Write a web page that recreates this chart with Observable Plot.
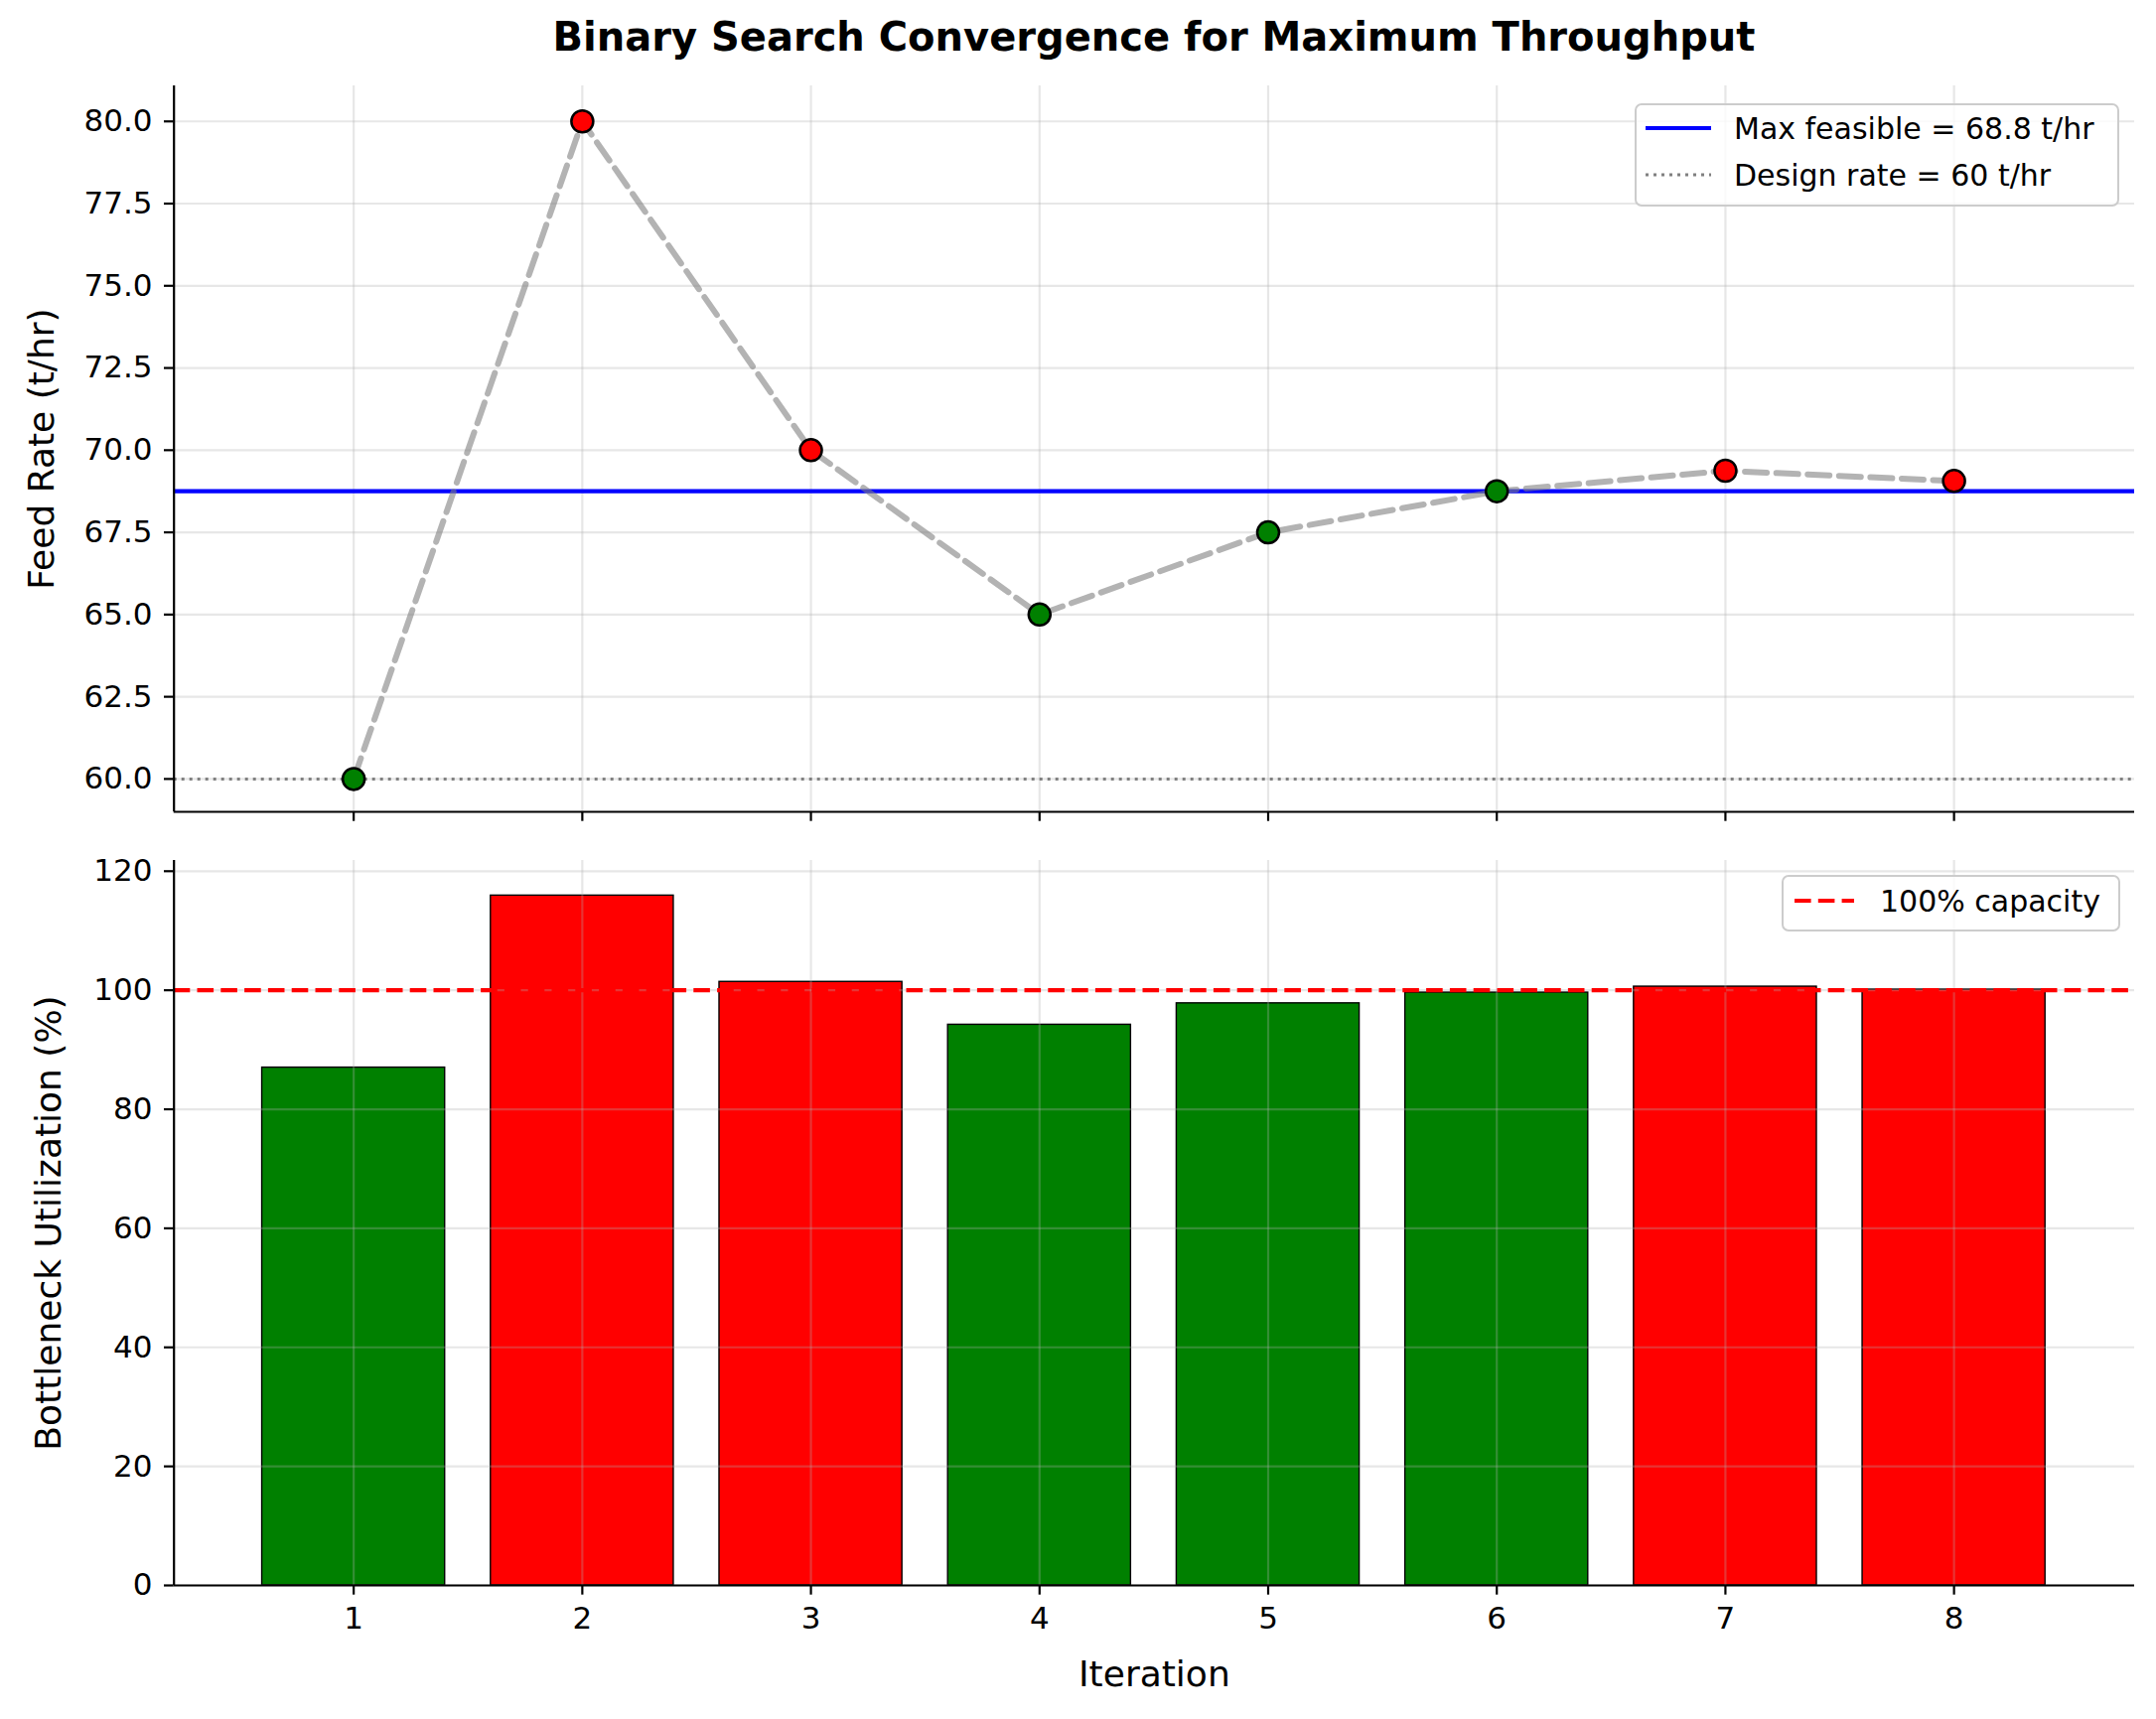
<!DOCTYPE html>
<html>
<head>
<meta charset="utf-8">
<script src="https://cdn.jsdelivr.net/npm/d3@7"></script>
<script src="https://cdn.jsdelivr.net/npm/@observablehq/plot@0.6"></script>
<style>
  html, body { margin: 0; padding: 0; background: #ffffff; }
  #fig { position: relative; width: 2171px; height: 1731px; background: #ffffff; font-family: "DejaVu Sans", sans-serif; }
  #fig > svg { position: absolute; left: 0; }
  #overlay { position: absolute; left: 0; top: 0; pointer-events: none; }
</style>
</head>
<body>
<div id="fig"></div>
<script>
// ---- data ----
const iterations = [1, 2, 3, 4, 5, 6, 7, 8];
const feedRates = [60, 80, 70, 65, 67.5, 68.75, 69.375, 69.0625];
const utilization = [87.0, 115.9, 101.4, 94.2, 97.8, 99.6, 100.6, 100.1];
const feasible = [true, false, false, true, true, true, false, false];
const maxFeasible = 68.75;
const designRate = 60;
const capacityLine = 100;
const feedTicks = [60, 62.5, 65, 67.5, 70, 72.5, 75, 77.5, 80];
const utilTicks = [0, 20, 40, 60, 80, 100, 120];
const titleText = "Binary Search Convergence for Maximum Throughput";
const legendTop = ["Max feasible = 68.8 t/hr", "Design rate = 60 t/hr"];
const legendBottom = ["100% capacity"];

const rows = iterations.map((it, i) => ({
  iter: it,
  feed: feedRates[i],
  util: utilization[i],
  color: feasible[i] ? "green" : "red"
}));

const W = 2171;
const xDomain = [0.214, 8.79];
const gridStyle = {stroke: "#b0b0b0", strokeOpacity: 0.3, strokeWidth: 2.2};
const spine = {stroke: "black", strokeWidth: 2.2};
const baseStyle = {fontFamily: "DejaVu Sans, sans-serif", fontSize: "31px", background: "transparent", overflow: "visible"};

const yTopDomain = [59, 81.08];
const topPlot = Plot.plot({
  width: W, height: 840,
  marginLeft: 174.7, marginRight: 22, marginTop: 86, marginBottom: 23,
  style: baseStyle,
  x: {domain: xDomain},
  y: {domain: yTopDomain},
  color: {type: "identity"},
  marks: [
    Plot.gridX(iterations, gridStyle),
    Plot.gridY(feedTicks, gridStyle),
    Plot.ruleY([maxFeasible], {stroke: "blue", strokeWidth: 4.2}),
    Plot.ruleY([designRate], {stroke: "gray", strokeWidth: 3, strokeDasharray: "3,5"}),
    Plot.line(rows, {x: "iter", y: "feed", stroke: "gray", strokeOpacity: 0.6, strokeWidth: 6, strokeDasharray: "22,9.6"}),
    Plot.dot(rows, {x: "iter", y: "feed", r: 11, fill: "color", stroke: "black", strokeWidth: 2.5}),
    Plot.axisX({ticks: iterations, tickSize: 9.7, tickFormat: () => "", strokeWidth: 2.2, label: null}),
    Plot.axisY({ticks: feedTicks, tickSize: 9.7, tickPadding: 12, tickFormat: d3.format(".1f"), strokeWidth: 2.2, label: null}),
    Plot.ruleX([xDomain[0]], spine),
    Plot.ruleY([yTopDomain[0]], spine),
    Plot.text(["Feed Rate (t/hr)"], {frameAnchor: "left", rotate: -90, dx: 41.5 - 174.7, fontSize: 36, textAnchor: "middle", lineAnchor: "middle", fill: "black"})
  ]
});
topPlot.style.top = "0px";

const yBotDomain = [0, 121.8];
const bottomPlot = Plot.plot({
  width: W, height: 891,
  marginLeft: 174.7, marginRight: 22, marginTop: 26, marginBottom: 135,
  style: baseStyle,
  x: {domain: xDomain},
  y: {domain: yBotDomain},
  color: {type: "identity"},
  marks: [
    Plot.rectY(rows, {x1: d => d.iter - 0.4, x2: d => d.iter + 0.4, y: "util", fill: "color", stroke: "black", strokeWidth: 1.4}),
    Plot.gridX(iterations, gridStyle),
    Plot.gridY(utilTicks, gridStyle),
    Plot.ruleY([capacityLine], {stroke: "red", strokeWidth: 4.2, strokeDasharray: "16.6,7.2"}),
    Plot.axisX({ticks: iterations, tickSize: 9.7, tickPadding: 12, tickFormat: d3.format("d"), strokeWidth: 2.2, label: null}),
    Plot.axisY({ticks: utilTicks, tickSize: 9.7, tickPadding: 12, tickFormat: d3.format("d"), strokeWidth: 2.2, label: null}),
    Plot.ruleX([xDomain[0]], spine),
    Plot.ruleY([yBotDomain[0]], spine),
    Plot.text(["Bottleneck Utilization (%)"], {frameAnchor: "left", rotate: -90, dx: 48.5 - 174.7, fontSize: 36, textAnchor: "middle", lineAnchor: "middle", fill: "black"}),
    Plot.text(["Iteration"], {frameAnchor: "bottom", dy: 90, fontSize: 36, textAnchor: "middle", lineAnchor: "middle", fill: "black"})
  ]
});
bottomPlot.style.top = "840px";

const fig = document.getElementById("fig");
fig.appendChild(topPlot);
fig.appendChild(bottomPlot);

// ---- overlay: title and legends ----
const ns = "http://www.w3.org/2000/svg";
const ov = document.createElementNS(ns, "svg");
ov.setAttribute("id", "overlay");
ov.setAttribute("width", W);
ov.setAttribute("height", 1731);
ov.setAttribute("font-family", "DejaVu Sans, sans-serif");
function el(tag, attrs, text) {
  const e = document.createElementNS(ns, tag);
  for (const k in attrs) e.setAttribute(k, attrs[k]);
  if (text !== undefined) e.textContent = text;
  ov.appendChild(e);
  return e;
}
el("text", {x: 1162, y: 37, "text-anchor": "middle", "dominant-baseline": "central", "font-size": 40, "font-weight": "bold", fill: "black"}, titleText);

// top legend
el("rect", {x: 1647, y: 105, width: 486, height: 102, rx: 6, fill: "white", "fill-opacity": 0.8, stroke: "#cccccc", "stroke-width": 2});
el("line", {x1: 1657, x2: 1723, y1: 129, y2: 129, stroke: "blue", "stroke-width": 4.2});
el("text", {x: 1746, y: 129, "dominant-baseline": "central", "font-size": 30, fill: "black"}, legendTop[0]);
el("line", {x1: 1657, x2: 1723, y1: 176, y2: 176, stroke: "gray", "stroke-width": 3, "stroke-dasharray": "3,5"});
el("text", {x: 1746, y: 176, "dominant-baseline": "central", "font-size": 30, fill: "black"}, legendTop[1]);

// bottom legend
el("rect", {x: 1795, y: 882, width: 339, height: 55, rx: 6, fill: "white", "fill-opacity": 0.8, stroke: "#cccccc", "stroke-width": 2});
el("line", {x1: 1807, x2: 1867, y1: 907, y2: 907, stroke: "red", "stroke-width": 4.2, "stroke-dasharray": "16.6,7.2"});
el("text", {x: 1893, y: 907, "dominant-baseline": "central", "font-size": 30, fill: "black"}, legendBottom[0]);

fig.appendChild(ov);
</script>
</body>
</html>
